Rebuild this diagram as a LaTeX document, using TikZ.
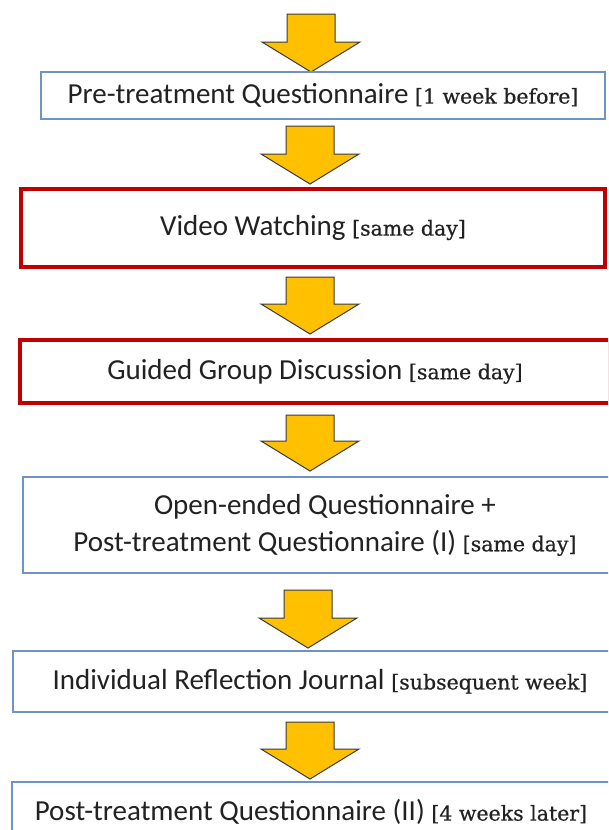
\documentclass[tikz,border=0pt]{standalone}
\usepackage{fontspec}
\setmainfont{Carlito}
\newfontfamily\bracketfont[FakeBold=0.6]{DejaVu Serif}
\newcommand{\brk}[1]{{\bracketfont\fontsize{20.5}{24}\selectfont[#1]}}
\definecolor{boxblue}{HTML}{6F93C4}
\definecolor{boxred}{HTML}{C00000}
\definecolor{arrowfill}{HTML}{FFC000}
\definecolor{arrowline}{HTML}{3A3A3A}
\definecolor{txt}{HTML}{222222}
\tikzset{
  bluebox/.style={draw=boxblue, line width=1.3pt, fill=white, inner sep=0pt, align=center, text=txt, font=\fontsize{29}{37}\selectfont},
  redbox/.style={draw=boxred, line width=4pt, fill=white, inner sep=0pt, align=center, text=txt, font=\fontsize{29}{37}\selectfont},
  blockarrow/.style={draw=arrowline, fill=arrowfill, line width=1pt, line join=miter}
}
\newcommand{\downarrowat}[3]{% cx, top, tip
  \draw[blockarrow] ({#1-24},{#2}) -- ({#1+24},{#2}) -- ({#1+24},{#3-30}) -- ({#1+49},{#3-30})
    -- ({#1},{#3}) -- ({#1-49},{#3-30}) -- ({#1-24},{#3-30}) -- cycle;}
\begin{document}
\begin{tikzpicture}[x=1pt,y=-1pt]
\useasboundingbox (0,0) rectangle (608,830);
\clip (0,0) rectangle (608,830);
\fill[white] (0,0) rectangle (608,830);

\downarrowat{311}{14}{72}
\node[bluebox, minimum width=564pt, minimum height=47pt] (b1) at (323,95.5)
  {Pre-treatment Questionnaire \brk{1 week before}};

\downarrowat{310}{126}{184}
\node[redbox, minimum width=584pt, minimum height=78pt] (b2) at (313,228)
  {Video Watching \brk{same day}};

\downarrowat{310}{277}{334}
\node[redbox, minimum width=590pt, minimum height=63pt] (b3) at (315,371.5)
  {Guided Group Discussion \brk{same day}};

\downarrowat{310}{415}{471}
\node[bluebox, minimum width=604pt, minimum height=96pt] (b4) at (325,525)
  {Open-ended Questionnaire +\\Post-treatment Questionnaire (I) \brk{same day}};

\downarrowat{308}{590}{648}
\node[bluebox, minimum width=614pt, minimum height=61pt] (b5) at (320,681.5)
  {Individual Reflection Journal \brk{subsequent week}};

\downarrowat{310}{722}{779}
\node[bluebox, minimum width=598pt, minimum height=60pt] (b6) at (311,812)
  {Post-treatment Questionnaire (II) \brk{4 weeks later}};
\end{tikzpicture}
\end{document}
